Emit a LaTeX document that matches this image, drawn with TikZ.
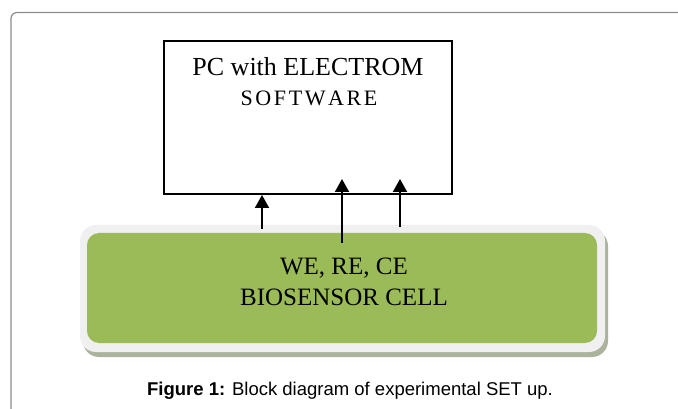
\documentclass[tikz,border=0pt]{standalone}
\usepackage{fontspec}
\setmainfont{Liberation Serif}
\newfontfamily\capfont{Liberation Sans}
\usetikzlibrary{arrows.meta,shadows}

\definecolor{cellgreen}{HTML}{9BBB59}
\definecolor{cellrim}{HTML}{F0F0F0}
\definecolor{cellshade}{HTML}{8F9A7C}
\definecolor{framegray}{HTML}{8C8C8C}

\tikzset{
  pcbox/.style={draw=black, line width=1.4pt, fill=white, minimum width=288pt,
    minimum height=153pt, inner sep=0pt},
  rimbox/.style={fill=cellrim, rounded corners=16pt, minimum width=525pt,
    minimum height=127pt, inner sep=0pt,
    drop shadow={shadow xshift=3pt, shadow yshift=-5pt, fill=cellshade, opacity=0.75}},
  cellbox/.style={fill=cellgreen, rounded corners=12pt, minimum width=510pt,
    minimum height=110pt, inner sep=0pt},
  sig/.style={line width=2pt, -{Triangle[width=14pt,length=13pt]}},
  bigtext/.style={anchor=base, inner sep=0pt, font=\fontsize{26}{26}\selectfont},
  midtext/.style={anchor=base, inner sep=0pt, font=\fontsize{22}{22}\selectfont},
  celltext/.style={anchor=base, inner sep=0pt, font=\fontsize{25}{25}\selectfont},
  captext/.style={anchor=base, inner sep=0pt, font=\capfont\fontsize{18.5}{18.5}\selectfont}
}

\newcommand{\lsp}{\kern2.6pt}

\begin{document}
\begin{tikzpicture}[x=1pt, y=-1pt]
\useasboundingbox (0,0) rectangle (678,409);

% page frame
\draw[framegray, line width=1.2pt, rounded corners=6pt]
  (11,409) -- (11,12.5) -- (678,12.5);

% computer block
\node[pcbox] (pc) at (308,117.5) {};
\node[bigtext] (pcl1) at (308,76) {PC with ELECTROM};
\node[midtext] (pcl2) at (309,106) {S\lsp O\lsp F\lsp T\lsp W\lsp A\lsp R\lsp E};

% biosensor cell block
\node[rimbox] (rim) at (342.5,288.5) {};
\node[cellbox] (cell) at (342,288) {};
\node[celltext] (cl1) at (344,274) {WE, RE, CE};
\node[celltext] (cl2) at (344,305) {BIOSENSOR CELL};

% electrode leads
\coordinate (we) at (262,229);
\coordinate (wetip) at (262,195);
\coordinate (re) at (342,243);
\coordinate (retip) at (342,179);
\coordinate (ce) at (400,227);
\coordinate (cetip) at (400,179);
\draw[sig] (we) -- (wetip);
\draw[sig] (re) -- (retip);
\draw[sig] (ce) -- (cetip);

% caption
\node[captext] (cap) at (350,395) {\textbf{Figure 1:} Block diagram of experimental SET up.};
\end{tikzpicture}
\end{document}
